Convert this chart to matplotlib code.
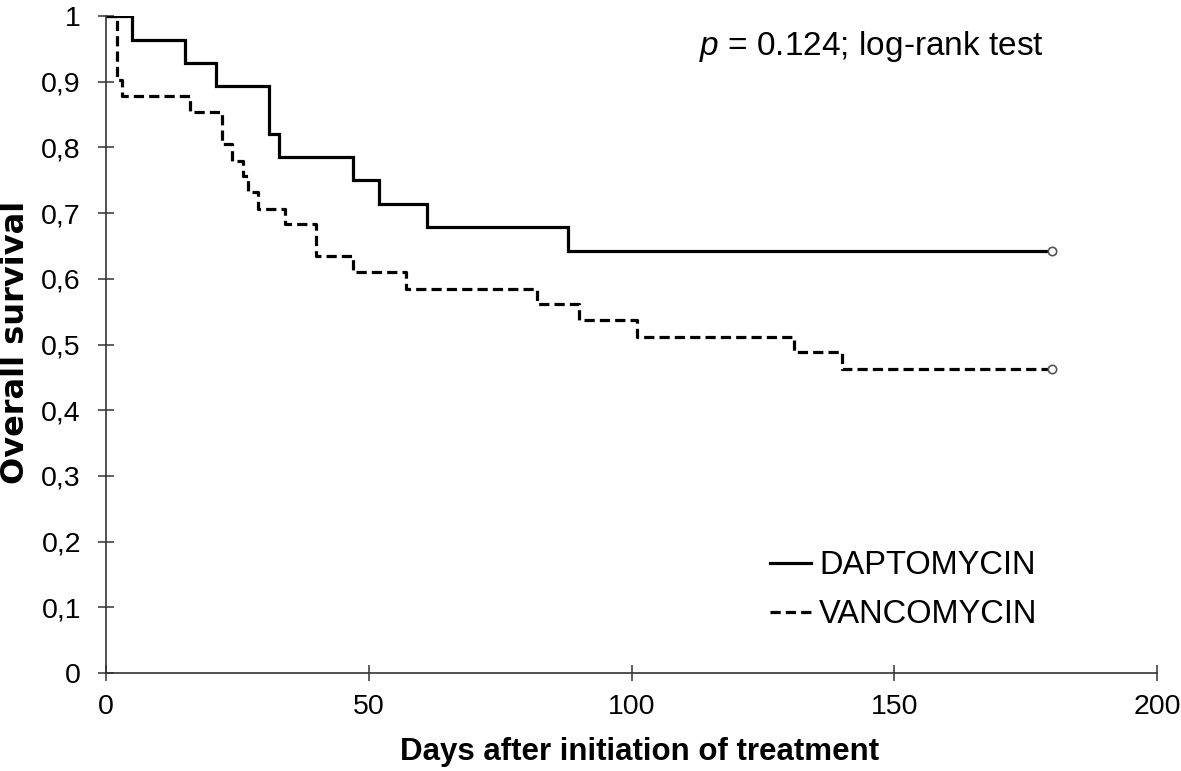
import matplotlib
matplotlib.use('Agg')
import matplotlib.pyplot as plt

# ── fonts ─────────────────────────────────────────────────────────────────────
plt.rcParams['font.family'] = ['Liberation Sans', 'DejaVu Sans']
plt.rcParams['mathtext.fontset'] = 'custom'
plt.rcParams['mathtext.it'] = 'Liberation Sans:italic'
plt.rcParams['mathtext.rm'] = 'Liberation Sans'

# ── data (Kaplan-Meier steps) ─────────────────────────────────────────────────
dapto_days = [0, 5, 15, 21, 31, 33, 47, 52, 61, 88, 180]
dapto_surv = [1.0, 0.964, 0.929, 0.893, 0.821, 0.786, 0.750, 0.714, 0.679, 0.643, 0.643]

vanco_days = [0, 2, 3, 16, 22, 24, 26, 27, 29, 34, 40, 47, 57, 82, 90, 101, 131, 140, 180]
vanco_surv = [1.0, 0.902, 0.878, 0.854, 0.805, 0.780, 0.756, 0.732, 0.707, 0.683,
              0.634, 0.610, 0.585, 0.561, 0.537, 0.512, 0.488, 0.463, 0.463]

x_ticks = [0, 50, 100, 150, 200]
y_ticks = [0, 0.1, 0.2, 0.3, 0.4, 0.5, 0.6, 0.7, 0.8, 0.9, 1.0]
y_tick_labels = ['0', '0,1', '0,2', '0,3', '0,4', '0,5', '0,6', '0,7', '0,8', '0,9', '1']

series_names = ['DAPTOMYCIN', 'VANCOMYCIN']
p_text = r'$\it{p}$ = 0.124; log-rank test'

# ── figure ────────────────────────────────────────────────────────────────────
W, H = 1181, 771
fig = plt.figure(figsize=(W / 100, H / 100), dpi=100, facecolor='white')
ax = fig.add_axes([106 / W, 1 - 673 / H, (1157 - 106) / W, (673 - 16) / H])

LW = 2.3
ax.step(dapto_days, dapto_surv, where='post', color='black', lw=LW,
        solid_joinstyle='miter', label=series_names[0])
ax.step(vanco_days, vanco_surv, where='post', color='black', lw=LW,
        linestyle=(0, (3.2, 1.6)), label=series_names[1])

# censor marks at the end of follow-up
ax.plot(dapto_days[-1], dapto_surv[-1], 'o', ms=6, mfc='white', mec='#555', mew=1.2)
ax.plot(vanco_days[-1], vanco_surv[-1], 'o', ms=6, mfc='white', mec='#555', mew=1.2)

ax.set_xlim(0, 200)
ax.set_ylim(0, 1)
ax.set_xticks(x_ticks)
ax.set_yticks(y_ticks)
ax.set_yticklabels(y_tick_labels)

for side in ('top', 'right'):
    ax.spines[side].set_visible(False)
for side in ('left', 'bottom'):
    ax.spines[side].set_color('#333')
    ax.spines[side].set_linewidth(1.2)

ax.tick_params(direction='inout', length=12, width=1.1, color='#333',
               labelsize=20.5, labelcolor='black')
ax.tick_params(axis='y', pad=12)
ax.tick_params(axis='x', pad=9)

fig.text(16 / W, 1 - 342 / H, 'Overall survival', rotation=90, ha='center',
         va='center', fontsize=23, fontweight='bold', family='DejaVu Sans')
fig.text(640 / W, 1 - 760 / H, 'Days after initiation of treatment', ha='center',
         va='baseline', fontsize=22.5, fontweight='bold')

ax.text(178.5, 0.953, p_text, ha='right', va='center', fontsize=24)

ax.legend(loc='upper left', bbox_to_anchor=((770 - 106) / 1051, (673 - 550) / 657),
          frameon=False, fontsize=23.5, handlelength=1.25, handletextpad=0.25,
          labelspacing=0.55, borderpad=0, borderaxespad=0)

fig.savefig('out.png', dpi=100, facecolor='white')
